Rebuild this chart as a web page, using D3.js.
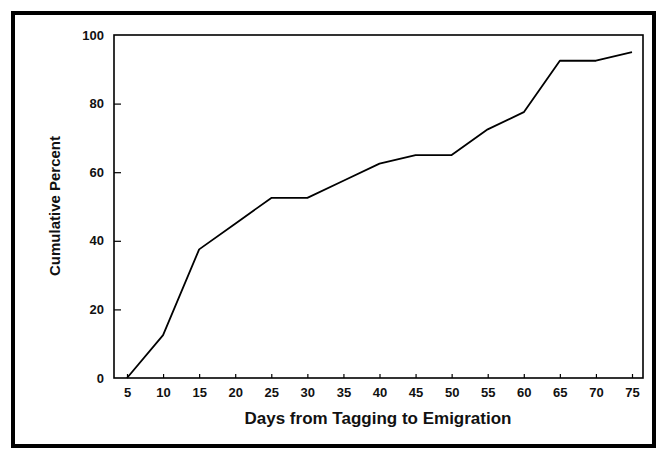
<!DOCTYPE html>
<html>
<head>
<meta charset="utf-8">
<script src="https://cdn.jsdelivr.net/npm/d3@7"></script>
<style>
  body { margin: 0; background: #fff; }
  text { font-family: Arial, "Liberation Sans", sans-serif; fill: #111; }
</style>
</head>
<body>
<div id="chart"></div>
<script>
// days since tagging (x) and cumulative percent emigrated (y)
var days = [5, 10, 15, 20, 25, 30, 35, 40, 45, 50, 55, 60, 65, 70, 75];
var cumPercent = [0, 12.5, 37.5, 45, 52.5, 52.5, 57.5, 62.5, 65, 65, 72.5, 77.5, 92.5, 92.5, 95];
var yTicks = [0, 20, 40, 60, 80, 100];

var svgWidth = 658;
var svgHeight = 449;

var margin = { top: 35, right: 15, bottom: 71, left: 114 };
var width = svgWidth - margin.left - margin.right;
var height = svgHeight - margin.top - margin.bottom;

var svg = d3.select("#chart")
  .append("svg")
  .attr("width", svgWidth)
  .attr("height", svgHeight);

// thick outer frame
svg.append("rect")
  .attr("x", 13)
  .attr("y", 13)
  .attr("width", 641)
  .attr("height", 433)
  .attr("fill", "none")
  .attr("stroke", "#000")
  .attr("stroke-width", 4);

var g = svg.append("g")
  .attr("transform", `translate(${margin.left}, ${margin.top})`);

var xScale = d3.scaleLinear()
  .domain([5, 75])
  .range([13, width - 11]);

var yScale = d3.scaleLinear()
  .domain([0, 100])
  .range([height, 0]);

// plot box
g.append("rect")
  .attr("width", width)
  .attr("height", height)
  .attr("fill", "none")
  .attr("stroke", "#000")
  .attr("stroke-width", 1.6);

// axes (ticks point inward)
var xAxis = d3.axisBottom(xScale)
  .tickValues(days)
  .tickSize(-4)
  .tickPadding(10);
var yAxis = d3.axisLeft(yScale)
  .tickValues(yTicks)
  .tickSize(-7)
  .tickPadding(10);

var xg = g.append("g")
  .attr("transform", `translate(0, ${height})`)
  .call(xAxis);
var yg = g.append("g").call(yAxis);

[xg, yg].forEach(function(a) {
  a.select(".domain").remove();
  a.selectAll(".tick line").attr("stroke", "#000").attr("stroke-width", 1.2);
  a.selectAll(".tick text")
    .style("font-size", "13px")
    .style("font-weight", "bold")
    .attr("fill", "#111");
});
yg.selectAll(".tick").filter(d => d === 0 || d === 100).select("line").remove();

// the line
var line = d3.line()
  .x((d, i) => xScale(days[i]))
  .y(d => yScale(d));

g.append("path")
  .datum(cumPercent)
  .attr("d", line)
  .attr("fill", "none")
  .attr("stroke", "#000")
  .attr("stroke-width", 1.8)
  .attr("stroke-linejoin", "round");

// axis labels
svg.append("text")
  .attr("x", 378)
  .attr("y", 424)
  .attr("text-anchor", "middle")
  .style("font-size", "17px")
  .style("font-weight", "bold")
  .text("Days from Tagging to Emigration");

svg.append("text")
  .attr("transform", "translate(60, 206) rotate(-90)")
  .attr("text-anchor", "middle")
  .style("font-size", "15px")
  .style("font-weight", "bold")
  .text("Cumulative Percent");
</script>
</body>
</html>
